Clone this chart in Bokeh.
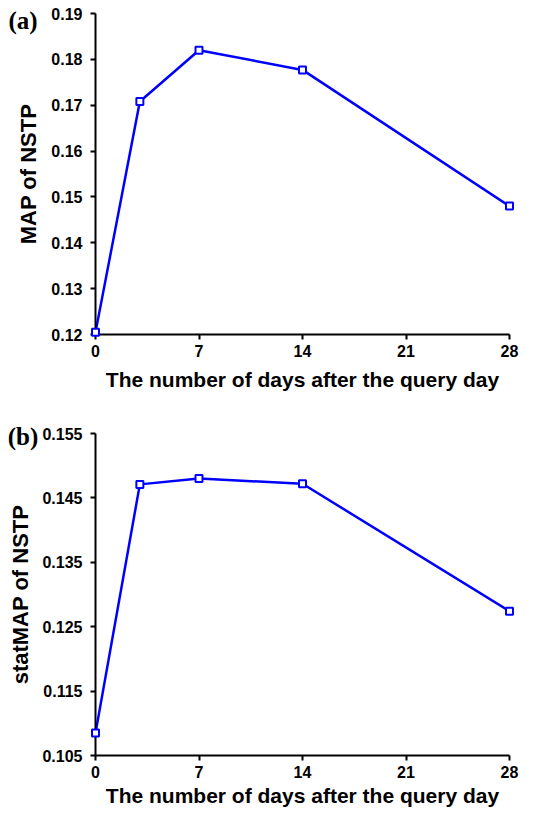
from bokeh.plotting import figure
from bokeh.layouts import column
from bokeh.models import FixedTicker, Range1d
from bokeh.core.properties import value
from bokeh.embed import file_html
from bokeh.resources import INLINE

days = [0, 3, 7, 14, 28]
map_nstp = [0.1205, 0.1708, 0.1820, 0.1777, 0.1480]
statmap_nstp = [0.1085, 0.1471, 0.1480, 0.1472, 0.1274]

x_ticks = [0, 7, 14, 21, 28]
a_ticks = [0.12, 0.13, 0.14, 0.15, 0.16, 0.17, 0.18, 0.19]
b_ticks = [0.105, 0.115, 0.125, 0.135, 0.145, 0.155]
a_tick_labels = {t: f"{t:.2f}" for t in a_ticks}
b_tick_labels = {t: f"{t:.3f}" for t in b_ticks}

xlabel = "The number of days after the query day"
FONT = "Liberation Sans"
BLUE = "#0000FF"


def make(height, top, bottom, yvals, yticks, ylabels, ylabel, tag, tag_x, tag_y,
         ylo, yhi, x_standoff, y_standoff):
    p = figure(width=542, height=height, output_backend="svg", toolbar_location=None,
               x_range=Range1d(0, 28), y_range=Range1d(ylo, yhi),
               min_border_left=95, min_border_right=33, min_border_top=top,
               min_border_bottom=bottom)
    p.outline_line_color = None
    p.grid.visible = False
    p.background_fill_color = "white"
    p.border_fill_color = "white"
    p.line(days, yvals, line_color=BLUE, line_width=2.5)
    r = p.scatter(days, yvals, marker="square", size=7, line_color=BLUE, line_width=2,
                  fill_color="white")
    r.level = "overlay"
    for ax in (p.xaxis[0], p.yaxis[0]):
        ax.axis_line_width = 2
        ax.axis_line_color = "black"
        ax.major_tick_line_width = 2
        ax.major_tick_in = 0
        ax.major_tick_out = 5
        ax.minor_tick_line_color = None
        ax.major_label_text_font = FONT
        ax.major_label_text_font_style = "bold"
        ax.major_label_text_font_size = "16px"
        ax.major_label_text_color = "black"
        ax.axis_label_text_font = FONT
        ax.axis_label_text_font_style = "bold"
        ax.axis_label_text_color = "black"
    p.xaxis.axis_label_text_font_size = "21px"
    p.yaxis.axis_label_text_font_size = "22px"
    p.xaxis.ticker = FixedTicker(ticks=x_ticks)
    p.yaxis.ticker = FixedTicker(ticks=yticks)
    p.yaxis.major_label_overrides = ylabels
    p.yaxis.major_label_standoff = 8
    p.xaxis.major_label_standoff = 5
    p.xaxis.axis_label = xlabel
    p.yaxis.axis_label = ylabel
    p.xaxis.axis_label_standoff = x_standoff
    p.yaxis.axis_label_standoff = y_standoff
    t = p.text(x=[tag_x], y=[tag_y], text=[tag], text_font=value("Liberation Serif"),
               text_font_style="bold", text_font_size="25px", text_baseline="middle",
               text_align="center", text_color="black")
    t.level = "overlay"
    return p


pa = make(418, 13, 84, map_nstp, a_ticks, a_tick_labels, "MAP of NSTP", "(a)", -4.9, 0.1885,
          0.12, 0.19, 8, 7)
pb = make(395, 15, 58, statmap_nstp, b_ticks, b_tick_labels, "statMAP of NSTP", "(b)", -4.9, 0.1546,
          0.105, 0.155, 3, 6)

layout = column(pa, pb, spacing=0)
open("out.html", "w").write(file_html(layout, INLINE))
